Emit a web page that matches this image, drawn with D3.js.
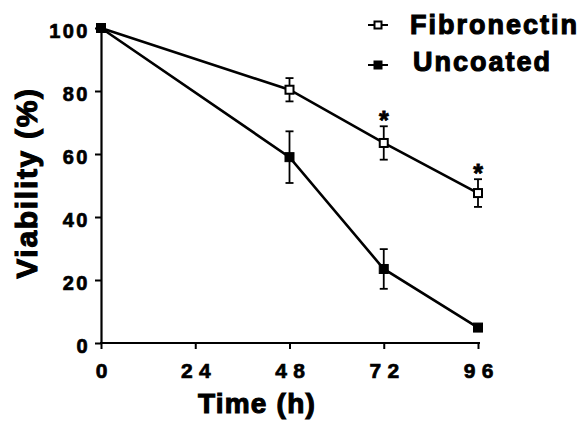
<!DOCTYPE html>
<html>
<head>
<meta charset="utf-8">
<script src="https://cdn.jsdelivr.net/npm/d3@7"></script>
<style>
  html, body { margin: 0; padding: 0; background: #fff; }
  svg { display: block; }
  text { font-family: "Liberation Sans", Arial, Helvetica, sans-serif; font-weight: bold; fill: #000; stroke: #000; }
</style>
</head>
<body>
<svg id="chart" width="583" height="424"></svg>
<script>
// ---- data ----
const times = [0, 48, 72, 96];
const fibronectin = [100, 80.4, 63.5, 47.6];
const fibronectinErr = [0, 3.7, 5.3, 4.4];
const uncoated = [100, 59.0, 23.5, 4.9];
const uncoatedErr = [0, 8.2, 6.3, 0];
const significant = [false, false, true, true];
const xTicks = [0, 24, 48, 72, 96];
const yTicks = [0, 20, 40, 60, 80, 100];
const seriesNames = ["Fibronectin", "Uncoated"];
const xTitle = "Time (h)";
const yTitle = "Viability (%)";

// ---- layout ----
const svg = d3.select("#chart");
const x = d3.scaleLinear().domain([0, 96]).range([101, 478]);
const y = d3.scaleLinear().domain([0, 100]).range([343, 28]);

// axes
const yAxis = d3.axisLeft(y).tickValues(yTicks).tickSize(6).tickSizeOuter(0).tickFormat(d3.format("d"));
const gy = svg.append("g").attr("transform", `translate(${x(0)},0)`).call(yAxis);
gy.select(".domain").attr("stroke-width", 2.2).attr("stroke", "#000");
gy.selectAll(".tick line").attr("stroke-width", 2).attr("stroke", "#000");
gy.selectAll(".tick text")
  .attr("x", -11)
  .attr("dy", null)
  .attr("y", 9.5)
  .style("font-size", "20px")
  .style("letter-spacing", "2.5px")
  .style("stroke-width", "0.7px")
  .attr("fill", "#000");

const xAxis = d3.axisBottom(x).tickValues(xTicks).tickSize(6).tickSizeOuter(0).tickFormat(d3.format("d"));
const gx = svg.append("g").attr("transform", `translate(0,${y(0)})`).call(xAxis);
gx.select(".domain").attr("stroke-width", 2.2).attr("stroke", "#000")
  .attr("d", `M${x(0) - 1},0H${x(96) + 2}`);
gx.selectAll(".tick line").attr("stroke-width", 2).attr("stroke", "#000");
gx.selectAll(".tick text")
  .attr("y", 35)
  .attr("dy", null)
  .attr("dx", d => d === 0 ? 0 : 3.3)
  .style("font-size", "21px")
  .style("letter-spacing", d => d === 0 ? "0px" : "6.5px")
  .style("stroke-width", "0.7px")
  .attr("fill", "#000");

// axis titles
svg.append("text")
  .attr("x", 257).attr("y", 413)
  .attr("text-anchor", "middle")
  .style("font-size", "28px")
  .style("letter-spacing", "1.2px")
  .style("stroke-width", "1.1px")
  .text(xTitle);

svg.append("text")
  .attr("transform", "translate(37,183) rotate(-90)")
  .attr("text-anchor", "middle")
  .style("font-size", "30px")
  .style("letter-spacing", "1.7px")
  .style("stroke-width", "1.1px")
  .text(yTitle);

// series
const series = [
  { name: seriesNames[0], values: fibronectin, err: fibronectinErr, open: true },
  { name: seriesNames[1], values: uncoated, err: uncoatedErr, open: false }
];

const line = d3.line().x(d => x(d[0])).y(d => y(d[1]));

series.forEach(s => {
  const pts = times.map((t, i) => [t, s.values[i], s.err[i]]);
  svg.append("path")
    .datum(pts)
    .attr("fill", "none")
    .attr("stroke", "#000")
    .attr("stroke-width", 2.6)
    .attr("d", line);

  // error bars
  const eb = svg.append("g");
  pts.filter(p => p[2] > 0).forEach(p => {
    const cx = x(p[0]);
    const y1 = y(p[1] + p[2]), y2 = y(p[1] - p[2]);
    eb.append("line").attr("x1", cx).attr("x2", cx).attr("y1", y1).attr("y2", y2)
      .attr("stroke", "#000").attr("stroke-width", 1.8);
    [y1, y2].forEach(yy => eb.append("line")
      .attr("x1", cx - 4).attr("x2", cx + 4).attr("y1", yy).attr("y2", yy)
      .attr("stroke", "#000").attr("stroke-width", 1.8));
  });

  // markers
  svg.append("g").selectAll("rect")
    .data(pts)
    .join("rect")
    .attr("x", d => x(d[0]) - (s.open ? 4 : 4.5))
    .attr("y", d => y(d[1]) - (s.open ? 4 : 4.5))
    .attr("width", s.open ? 8 : 9)
    .attr("height", s.open ? 8 : 9)
    .attr("fill", s.open ? "#fff" : "#000")
    .attr("stroke", "#000")
    .attr("stroke-width", s.open ? 2 : 1);
});

// significance asterisks (above fibronectin error bars)
svg.append("g").selectAll("text")
  .data(times.map((t, i) => ({ t, v: fibronectin[i] + fibronectinErr[i], sig: significant[i] })).filter(d => d.sig))
  .join("text")
  .attr("x", d => x(d.t))
  .attr("y", d => y(d.v) + 3)
  .attr("text-anchor", "middle")
  .style("font-size", "25px")
  .style("stroke-width", "0.8px")
  .text("*");

// legend
const legend = svg.append("g");
series.forEach((s, i) => {
  const ly = i === 0 ? 25 : 65;
  const ty = i === 0 ? 33.5 : 71;
  legend.append("line").attr("x1", 368).attr("x2", 388).attr("y1", ly).attr("y2", ly)
    .attr("stroke", "#000").attr("stroke-width", 2);
  legend.append("rect")
    .attr("x", 378 - (s.open ? 3.5 : 4)).attr("y", ly - (s.open ? 3.5 : 4))
    .attr("width", s.open ? 7 : 8).attr("height", s.open ? 7 : 8)
    .attr("fill", s.open ? "#fff" : "#000")
    .attr("stroke", "#000").attr("stroke-width", s.open ? 2 : 1);
  legend.append("text")
    .attr("x", i === 0 ? 410 : 413).attr("y", ty)
    .style("font-size", "27px")
    .style("letter-spacing", "2px")
    .style("stroke-width", "1.1px")
    .text(s.name);
});
</script>
</body>
</html>
